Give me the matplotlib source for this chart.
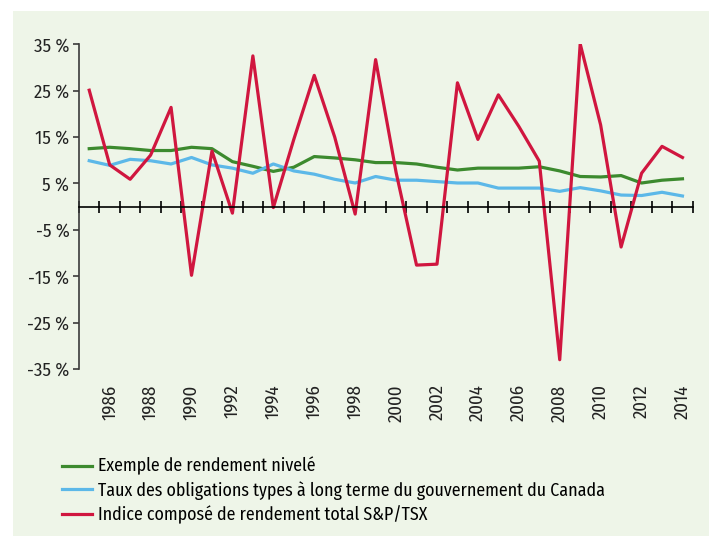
import matplotlib
matplotlib.use("Agg")
import matplotlib.pyplot as plt
from matplotlib.patches import Rectangle

plt.rcParams["font.family"] = ["Fira Sans Condensed", "DejaVu Sans"]

YEARS = list(range(1985, 2015))
LEVELED = [12.5, 12.8, 12.5, 12.1, 12.1, 12.8, 12.5, 9.7, 8.7, 7.6,
           8.5, 10.8, 10.5, 10.1, 9.5, 9.5, 9.2, 8.5, 7.9, 8.3,
           8.3, 8.3, 8.6, 7.7, 6.5, 6.4, 6.7, 5.1, 5.7, 6.0]
BONDS = [9.9, 8.9, 10.2, 9.9, 9.2, 10.6, 9.0, 8.3, 7.2, 9.2,
         7.7, 7.0, 5.9, 5.1, 6.5, 5.7, 5.7, 5.4, 5.1, 5.1,
         4.0, 4.0, 4.0, 3.3, 4.1, 3.4, 2.5, 2.4, 3.1, 2.3]
TSX = [25.1, 9.0, 5.9, 11.1, 21.4, -14.8, 12.0, -1.4, 32.5, -0.2,
       14.5, 28.3, 15.0, -1.6, 31.7, 7.4, -12.6, -12.4, 26.7, 14.5,
       24.1, 17.3, 9.8, -33.0, 35.1, 17.6, -8.7, 7.2, 13.0, 10.6]
Y_TICKS = [35, 25, 15, 5, -5, -15, -25, -35]
Y_LABELS = ["35 %", "25 %", "15 %", "5 %", "-5 %", "-15 %", "-25 %", "-35 %"]
LABELS = ["Exemple de rendement nivelé",
          "Taux des obligations types à long terme du gouvernement du Canada",
          "Indice composé de rendement total S&P/TSX"]

GREEN, BLUE, RED = "#3c8a2e", "#5cb8e8", "#d0163f"
PANEL = "#eef5e8"
FS = 13.5

W, H = 710, 536
fig = plt.figure(figsize=(W / 100, H / 100), dpi=100)
fig.patches.append(Rectangle((13 / W, 0), (709 - 13) / W, (536 - 11) / H,
                             transform=fig.transFigure, facecolor=PANEL,
                             edgecolor="none", zorder=-10))

ax = fig.add_axes([79 / W, 1 - 369 / H, (692.7 - 79) / W, (369 - 44.3) / H])
ax.set_facecolor("none")
ax.set_zorder(2)

x = list(range(len(YEARS)))
lw = 2.3
l1, = ax.plot(x, LEVELED, color=GREEN, lw=lw, label=LABELS[0])
l2, = ax.plot(x, BONDS, color=BLUE, lw=lw, label=LABELS[1])
l3, = ax.plot(x, TSX, color=RED, lw=lw, label=LABELS[2])

ax.set_xlim(-0.5, len(YEARS) - 0.5)
ax.set_ylim(-35, 35)

for s in ("top", "right"):
    ax.spines[s].set_visible(False)
ax.spines["left"].set_color("#3a3a3a")
ax.spines["left"].set_linewidth(1.2)
ax.spines["bottom"].set_position(("data", 0))
ax.spines["bottom"].set_color("black")
ax.spines["bottom"].set_linewidth(1.2)

ax.set_yticks(Y_TICKS)
ax.set_yticklabels(Y_LABELS, fontsize=FS, color="#222222")
ax.tick_params(axis="y", direction="out", length=4, width=1.2, color="#3a3a3a", pad=3)

ax.set_xticks([i - 0.5 for i in range(len(YEARS) + 1)])
ax.set_xticklabels([])
ax.tick_params(axis="x", direction="inout", length=8, width=1.2, color="black")

# year labels at the bottom of the axes
sec = ax.secondary_xaxis(0.0)
sec.set_xticks([i for i, y in enumerate(YEARS) if y % 2 == 0])
sec.set_xticklabels([str(y) for y in YEARS if y % 2 == 0], rotation=90,
                    fontsize=FS, color="#222222")
sec.tick_params(length=0, pad=11)
sec.spines["bottom"].set_visible(False)

fig.legend(handles=[l1, l2, l3], loc="upper left",
           bbox_to_anchor=(62 / W, 1 - 457 / H), frameon=False, fontsize=12.8,
           handlelength=1.7, handletextpad=0.3, labelspacing=0.3,
           borderaxespad=0, borderpad=0)

fig.savefig("out.png", dpi=100)
